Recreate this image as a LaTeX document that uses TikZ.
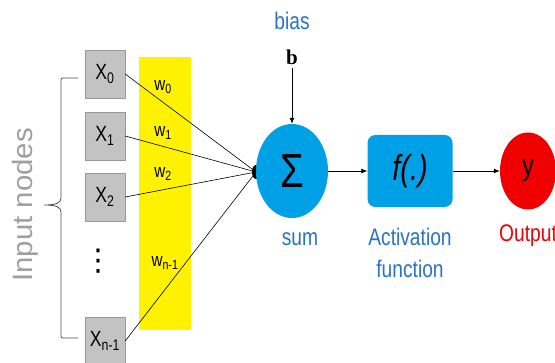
\documentclass[tikz,border=0pt]{standalone}
\usepackage{fontspec}
\setmainfont{Liberation Sans}[FakeStretch=0.8]
\newfontfamily\serifbold{Liberation Serif}
\newfontfamily\sidefont{Liberation Sans}[FakeStretch=1.05]
\newfontfamily\symfont{DejaVu Sans}
\usetikzlibrary{arrows.meta,positioning,shapes.geometric}
\definecolor{sumblue}{RGB}{0,160,230}
\definecolor{labelblue}{RGB}{40,115,195}
\definecolor{outred}{RGB}{240,0,0}
\definecolor{inputgray}{RGB}{195,195,195}

\begin{document}
\begin{tikzpicture}[
    x=1pt, y=-1pt,
    inbox/.style={rectangle, draw=gray!80, fill=inputgray, minimum width=40pt, minimum height=48pt, inner sep=0pt, font=\fontsize{22}{24}\selectfont},
    weight/.style={inner sep=0pt, font=\fontsize{19}{21}\selectfont},
    caption/.style={inner sep=0pt, anchor=base, font=\fontsize{24}{32}\selectfont},
    arrow/.style={-{Latex[length=6pt,width=5pt]}, line width=0.8pt},
    wire/.style={line width=0.6pt}
  ]
    \useasboundingbox (0,0) rectangle (555,363);
    \fill[yellow] (139,57) rectangle (191,330);

    % input nodes
    \node[inbox] (x0) at (105,74) {X\textsubscript{0}};
    \node[inbox] (x1) at (105,136) {X\textsubscript{1}};
    \node[inbox] (x2) at (105,197) {X\textsubscript{2}};
    \node[inner sep=0pt, font=\symfont\fontsize{30}{32}\selectfont] (dots) at (98,261) {⋮};
    \node[inbox] (xn) at (105,341) {X\textsubscript{n-1}};

    \node[weight] (w0) at (163,87) {w\textsubscript{0}};
    \node[weight] (w1) at (163,133) {w\textsubscript{1}};
    \node[weight] (w2) at (163,174) {w\textsubscript{2}};
    \node[weight] (wn) at (165,263) {w\textsubscript{n-1}};

    \node[rotate=90, inner sep=0pt, text=gray!75, font=\sidefont\fontsize{28}{30}\selectfont] (inlabel) at (25,205) {Input nodes};
    \draw[gray!60!black, line width=0.8pt] (78,78) -- (65,78) .. controls (61,78) .. (61,82) -- (61,198)
      .. controls (61,203) and (56,205) .. (44,205) .. controls (56,205) and (61,207) .. (61,212)
      -- (61,334) .. controls (61,338) .. (65,338) -- (78,338);

    % summation
    \coordinate (join) at (256,172);
    \fill (join) ellipse (4pt and 7pt);
    \node[ellipse, fill=sumblue, minimum width=72pt, minimum height=94pt, inner sep=0pt, font=\fontsize{48}{50}\selectfont] (sum) at (292,171) {Σ};
    \foreach \i in {x0,x1,x2,xn}
      \draw[wire] (\i.east) -- (join);

    \node[caption, text=labelblue] (bias) at (292,30) {bias};
    \node[caption, font=\serifbold\bfseries\fontsize{21}{24}\selectfont] (b) at (292,65) {b};
    \draw[arrow] ([yshift=-3pt]b.south) -- (sum.north);
    \node[caption, text=labelblue] (sumlabel) at (300,246) {sum};

    % activation and output
    \node[rectangle, rounded corners=8pt, fill=sumblue, minimum width=85pt, minimum height=72pt, font=\itshape\fontsize{36}{40}\selectfont] (act) at (410,171) {f(.)};
    \node[caption, anchor=north, align=center, text=labelblue] (actlabel) at (410,228) {Activation\\function};
    \node[ellipse, fill=outred, minimum width=56pt, minimum height=77pt, inner sep=0pt, font=\fontsize{30}{32}\selectfont] (out) at (528,171) {y};
    \node[caption, anchor=base west, text=outred] (outlabel) at (499,242) {Output};

    \draw[arrow] (sum) -- (act);
    \draw[arrow] (act) -- (out);
  \end{tikzpicture}
\end{document}
